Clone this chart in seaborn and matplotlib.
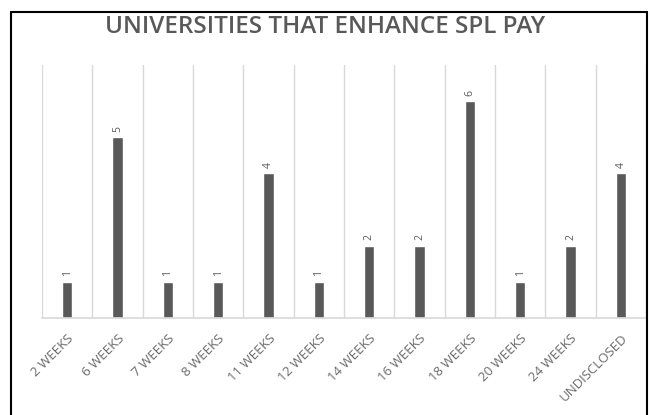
import matplotlib
matplotlib.use("Agg")
import matplotlib.pyplot as plt
import seaborn as sns
import pandas as pd
from matplotlib.lines import Line2D

categories = ["2 WEEKS", "6 WEEKS", "7 WEEKS", "8 WEEKS", "11 WEEKS", "12 WEEKS",
              "14 WEEKS", "16 WEEKS", "18 WEEKS", "20 WEEKS", "24 WEEKS", "UNDISCLOSED"]
counts = [1, 5, 1, 1, 4, 1, 2, 2, 6, 1, 2, 4]

df = pd.DataFrame({"leave": categories, "count": counts})

sns.set_theme(style="white")
plt.rcParams['font.family'] = ['Open Sans', 'DejaVu Sans']

fig = plt.figure(figsize=(6.5, 4.15), dpi=100)
ax = fig.add_axes([42/650, 1 - 318/415, 604/650, 253/415])

sns.barplot(data=df, x="leave", y="count", color="#595959", width=0.2,
            saturation=1, ax=ax)

ax.set_xlim(-0.5, len(categories) - 0.5)
ax.set_ylim(0, 7)
ax.set_xlabel("")
ax.set_ylabel("")
ax.set_yticks([])

# vertical category dividers
for i in range(len(categories) + 1):
    ax.axvline(i - 0.5, color="#d9d9d9", lw=1, zorder=0)
for s in ["top", "right", "left"]:
    ax.spines[s].set_visible(False)
ax.spines["bottom"].set_color("#d9d9d9")
ax.tick_params(axis="x", length=0, pad=10)

ax.set_xticks(range(len(categories)))
ax.set_xticklabels(categories, rotation=45, ha="right", rotation_mode="anchor",
                   fontsize=9.5, color="#6a6a6a")

for i, v in enumerate(counts):
    ax.text(i, v + 0.15, str(v), rotation=90, ha="center", va="bottom",
            fontsize=7.5, color="#595959")

fig.text(0.5, 1 - 27/415, "UNIVERSITIES THAT ENHANCE SPL PAY", ha="center", va="center",
         fontsize=17.5, color="#595959", fontweight="semibold")

# outer frame
fig.add_artist(Line2D([11/650, 11/650], [0, 1 - 12/415], color="black", lw=1.5,
                      transform=fig.transFigure))
fig.add_artist(Line2D([11/650, 647/650], [1 - 12/415, 1 - 12/415], color="black", lw=1.5,
                      transform=fig.transFigure))
fig.add_artist(Line2D([647/650, 647/650], [0, 1 - 12/415], color="black", lw=1.5,
                      transform=fig.transFigure))

fig.savefig("out.png", dpi=100)
